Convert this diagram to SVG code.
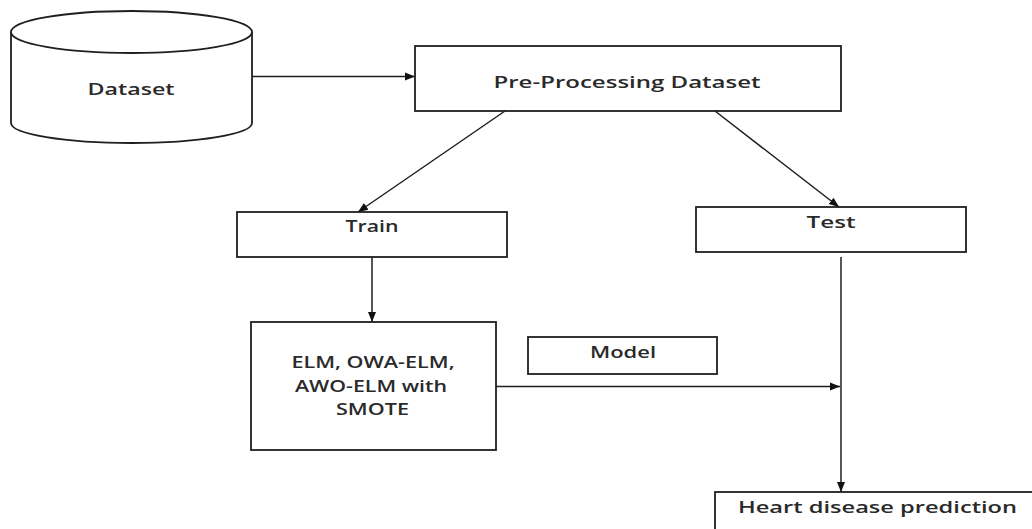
<svg xmlns="http://www.w3.org/2000/svg" width="1032" height="529" viewBox="0 0 1032 529">
  <style>
    .box { fill: #ffffff; stroke: #1f1f1f; stroke-width: 1.8; }
    .lbl { font-family: "Open Sans", "Liberation Sans", sans-serif; font-size: 16px; font-weight: 600; fill: #2a2a2a; text-anchor: middle; }
    .edge { fill: none; stroke: #1f1f1f; stroke-width: 1.5; }
  </style>
  <defs>
    <marker id="arrow" viewBox="0 0 10 10" refX="10" refY="5" markerWidth="10" markerHeight="10" markerUnits="userSpaceOnUse" orient="auto">
      <path d="M0,1 L10,5 L0,9 Z" fill="#111111"/>
    </marker>
  </defs>

  <rect width="1032" height="529" fill="#ffffff"/>

  <!-- data store -->
  <g id="dataset">
    <path class="box" d="M11,32 L11,123 A120.5,20 0 0 0 252,123 L252,32"/>
    <ellipse class="box" cx="131.5" cy="32" rx="120.5" ry="21"/>
    <text class="lbl" x="131" y="95" textLength="87" lengthAdjust="spacingAndGlyphs">Dataset</text>
  </g>

  <g id="preprocessing">
    <rect class="box" x="415" y="46" width="426" height="65"/>
    <text class="lbl" x="627" y="88" textLength="267" lengthAdjust="spacingAndGlyphs">Pre-Processing Dataset</text>
  </g>

  <g id="train">
    <rect class="box" x="237" y="212" width="270" height="45"/>
    <text class="lbl" x="372" y="232" textLength="53" lengthAdjust="spacingAndGlyphs">Train</text>
  </g>

  <g id="test">
    <rect class="box" x="696" y="207" width="270" height="45"/>
    <text class="lbl" x="831" y="228" textLength="49" lengthAdjust="spacingAndGlyphs">Test</text>
  </g>

  <g id="classifiers">
    <rect class="box" x="251" y="322" width="245" height="128"/>
    <text class="lbl" x="373" y="368" textLength="163" lengthAdjust="spacingAndGlyphs">ELM, OWA-ELM,</text>
    <text class="lbl" x="371" y="392" textLength="152" lengthAdjust="spacingAndGlyphs">AWO-ELM with</text>
    <text class="lbl" x="372.5" y="415" textLength="73" lengthAdjust="spacingAndGlyphs">SMOTE</text>
  </g>

  <g id="model">
    <rect class="box" x="528" y="337" width="189" height="37"/>
    <text class="lbl" x="623" y="358" textLength="66" lengthAdjust="spacingAndGlyphs">Model</text>
  </g>

  <g id="prediction">
    <rect class="box" x="715" y="492" width="330" height="60"/>
    <text class="lbl" x="877.5" y="513" textLength="279" lengthAdjust="spacingAndGlyphs">Heart disease prediction</text>
  </g>

  <g id="connectors">
    <line class="edge" x1="252" y1="76.5" x2="415" y2="76.5" marker-end="url(#arrow)"/>
    <line class="edge" x1="505" y1="111" x2="358" y2="212" marker-end="url(#arrow)"/>
    <line class="edge" x1="715" y1="111" x2="839" y2="207" marker-end="url(#arrow)"/>
    <line class="edge" x1="372" y1="257" x2="372" y2="322" marker-end="url(#arrow)"/>
    <line class="edge" x1="496" y1="386.5" x2="840" y2="386.5" marker-end="url(#arrow)"/>
    <line class="edge" x1="841" y1="257" x2="841" y2="492" marker-end="url(#arrow)"/>
  </g>
</svg>
